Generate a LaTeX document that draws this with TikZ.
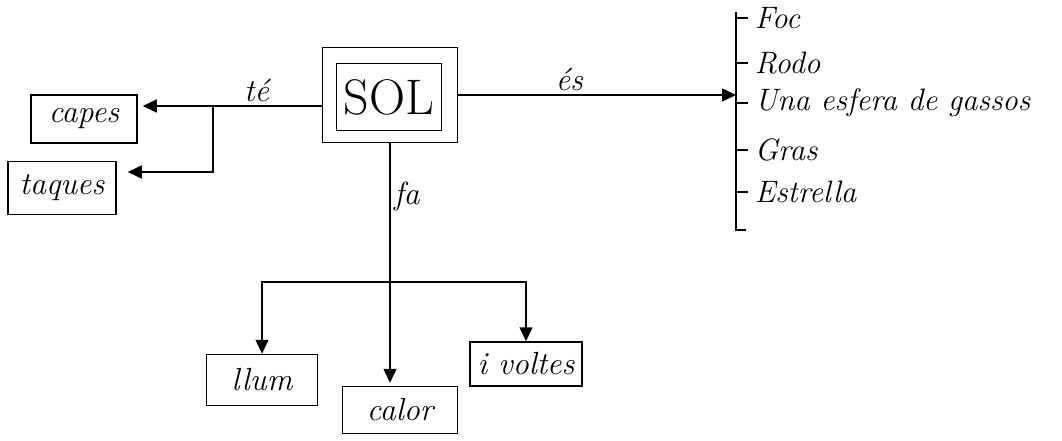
\documentclass[tikz,border=0pt]{standalone}
\usepackage{fontspec}
\usetikzlibrary{arrows.meta}

\begin{document}
\begin{tikzpicture}[
x=1pt, y=-1pt,
every path/.style={line width=1.5pt},
arr/.style={-{Triangle[length=14pt,width=13pt]}},
box/.style={draw, inner sep=2pt, font=\fontsize{32}{36}\selectfont\itshape},
lbl/.style={font=\fontsize{32}{36}\selectfont\itshape},
item/.style={anchor=west, inner sep=6pt, font=\fontsize{31}{34}\selectfont\itshape}
]
\useasboundingbox (0,0) rectangle (1062,441);

% centre
\node [draw, minimum width=135pt, minimum height=95pt] (solout) at (390,95) {};
\node [draw, minimum width=105pt, minimum height=67pt, font=\fontsize{50}{54}\selectfont] (sol) at (389,97) {SOL};

% left: te
\node [box, minimum width=106pt, minimum height=48pt] (capes) at (84,119) {capes};
\node [box, minimum width=108pt, minimum height=53pt] (taques) at (62,188) {taques};
\coordinate (split) at (213,106);
\draw (solout.west |- split) -- node[lbl, above, pos=0.6] {té} (split);
\draw[arr, shorten >=5pt] (split) -- (capes.east |- split);
\draw[arr, shorten >=11pt] (split) |- ([yshift=16pt]taques.east);

% right: es
\coordinate (bar) at (736,12);
\draw (bar) -- (736,230) -- (746,230);
\draw[arr] (solout.east) -- node[lbl, above, pos=0.4] {és} (solout.east -| bar);
\foreach \name/\y/\txt in {foc/18/Foc, rodo/63/Rodo, esfera/103/Una esfera de gassos, gras/150/Gras, estrella/192/Estrella}{
  \node [item] (\name) at (748,\y) {\txt};
  \draw (bar |- \name.west) -- (\name.west);
}

% bottom: fa
\node [box, minimum width=111pt, minimum height=51pt] (llum) at (262,380) {llum};
\node [box, minimum width=115pt, minimum height=47pt] (calor) at (400,410) {calor};
\node [box, minimum width=112pt, minimum height=44pt] (voltes) at (526,364) {i voltes};
\coordinate (fork) at (solout.south |- 0,282);
\draw[arr, shorten >=3pt] (solout.south) -- node[lbl, right, pos=0.22] {fa} (solout.south |- calor.north);
\draw[arr] (fork) -| (llum);
\draw[arr] (fork) -| (voltes);
\end{tikzpicture}
\end{document}
